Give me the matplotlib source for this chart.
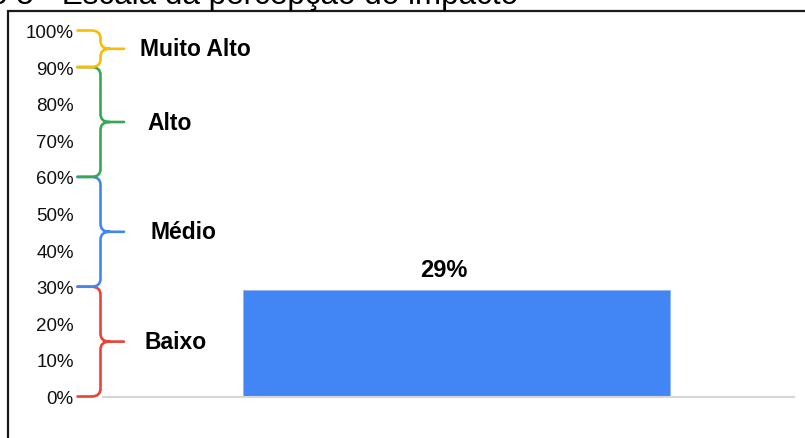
import matplotlib.pyplot as plt
import matplotlib.transforms as mtransforms
from matplotlib.path import Path
from matplotlib.patches import PathPatch, Rectangle

plt.rcParams['font.family'] = ['Liberation Sans', 'DejaVu Sans']

# data
categories = ['Impacto']
values = [0.29]
value_labels = ['29%']
y_ticks = [0.0, 0.1, 0.2, 0.3, 0.4, 0.5, 0.6, 0.7, 0.8, 0.9, 1.0]
y_tick_labels = ['0%', '10%', '20%', '30%', '40%', '50%', '60%', '70%', '80%', '90%', '100%']

# scale bands shown with braces on the left
band_names = ['Baixo', 'Médio', 'Alto', 'Muito Alto']
band_low = [0.0, 0.3, 0.6, 0.9]
band_high = [0.3, 0.6, 0.9, 1.0]
band_colors = ['#EA4335', '#4285F4', '#34A853', '#FBBC04']
band_text_x = [144, 151, 147, 140]   # left edge of each band label, px

W, H = 805, 439
fig = plt.figure(figsize=(W / 100, H / 100), dpi=100)
ax = fig.add_axes([103 / W, (H - 397.5) / H, 691 / W, 366 / H])

bars = ax.bar(range(len(categories)), values, width=1.0, color='#4285F4',
              edgecolor='#8fb6f7', linewidth=0.6, zorder=2)
for b, lab in zip(bars, value_labels):
    ax.annotate(lab, (b.get_x() + b.get_width() / 2, b.get_height()),
                xytext=(-9.5, 10), textcoords='offset points',
                ha='center', va='baseline', fontsize=17, fontweight='bold')

ax.set_xlim(-0.828, 0.790)
ax.set_ylim(0, 1)
ax.set_xticks([])
ax.set_yticks(y_ticks)
ax.set_yticklabels(y_tick_labels, fontsize=13.5, color='#111111')
ax.tick_params(axis='y', length=0, pad=21)
for s in ['top', 'right', 'left']:
    ax.spines[s].set_visible(False)
ax.spines['bottom'].set_color('#d6d6d6')
ax.spines['bottom'].set_linewidth(1.5)

# braces: x in figure fraction, y in data units
trans = mtransforms.blended_transform_factory(fig.transFigure, ax.transData)

x_end, x_vert, x_tip = 77.5 / W, 100.5 / W, 124.0 / W
rx = 9 / W
ry = 8 / 366
for lo, hi, col, name, tx in zip(band_low, band_high, band_colors, band_names, band_text_x):
    mid = (lo + hi) / 2
    verts = [
        (x_end, hi), (x_vert - rx, hi),
        (x_vert, hi), (x_vert, hi - ry),
        (x_vert, mid + ry),
        (x_vert, mid), (x_vert + rx, mid),
        (x_tip, mid),
        (x_vert + rx, mid),
        (x_vert, mid), (x_vert, mid - ry),
        (x_vert, lo + ry),
        (x_vert, lo), (x_vert - rx, lo),
        (x_end, lo),
    ]
    codes = [
        Path.MOVETO, Path.LINETO,
        Path.CURVE3, Path.CURVE3,
        Path.LINETO,
        Path.CURVE3, Path.CURVE3,
        Path.LINETO,
        Path.MOVETO,
        Path.CURVE3, Path.CURVE3,
        Path.LINETO,
        Path.CURVE3, Path.CURVE3,
        Path.LINETO,
    ]
    brace = PathPatch(Path(verts, codes), transform=trans, fill=False,
                      edgecolor=col, linewidth=1.9, clip_on=False,
                      capstyle='round', joinstyle='round')
    fig.add_artist(brace)
    ax.text(tx / W, mid, name, transform=trans, ha='left', va='center',
            fontsize=16.5, fontweight='bold', color='black')

# outer frame and caption running off the top of the image
fig.add_artist(Rectangle((7.5 / W, -0.2), 1.2, (H - 11.5) / H + 0.2,
                         transform=fig.transFigure, fill=False,
                         edgecolor='#1a1a1a', linewidth=1.6, clip_on=False))
fig.text(518 / W, (H - 4) / H, 'Gráfico 5 - Escala da percepção do impacto',
         ha='right', va='baseline', fontsize=22.6, color='black')

fig.savefig('out.png', dpi=100, facecolor='white')
